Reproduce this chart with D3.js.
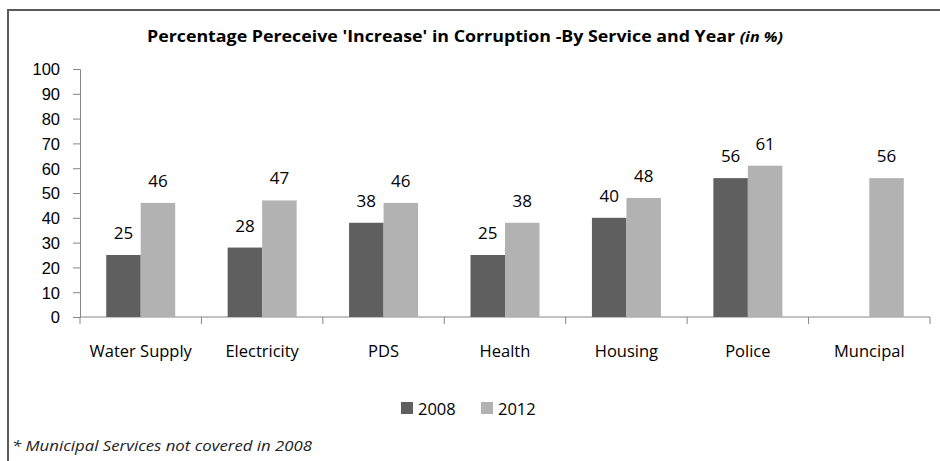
<!DOCTYPE html>
<html>
<head>
<meta charset="utf-8">
<script src="https://cdn.jsdelivr.net/npm/d3@7"></script>
<style>
  body { margin: 0; background: #fff; }
  svg { display: block; font-family: "Open Sans", "Noto Sans", sans-serif; }
</style>
</head>
<body>
<div id="chart"></div>
<script>
const categories = ["Water Supply", "Electricity", "PDS", "Health", "Housing", "Police", "Muncipal"]
const years = ["2008", "2012"]
const values2008 = [25, 28, 38, 25, 40, 56, null]
const values2012 = [46, 47, 46, 38, 48, 61, 56]
const yTicks = [0, 10, 20, 30, 40, 50, 60, 70, 80, 90, 100]
const colors = { "2008": "#5f5f5f", "2012": "#b2b2b2" }

const width = 940
const height = 461

const svg = d3.select("#chart")
    .append("svg")
    .attr("width", width)
    .attr("height", height)

// frame (only top and left edges are visible in the cropped picture)
svg.append("path")
    .attr("d", "M8,461 V10 H940")
    .attr("fill", "none")
    .attr("stroke", "#5a5a5a")
    .attr("stroke-width", 2)

const x0 = d3.scaleBand()
    .domain(categories)
    .range([80, 930])
    .padding(0)

const x1 = d3.scaleBand()
    .domain(years)
    .range([0, x0.bandwidth()])
    .paddingInner(0)
    .paddingOuter(0.76)

const y = d3.scaleLinear()
    .domain([0, 100])
    .range([317, 69])

const rows = categories.map(function(c, i) {
    return { category: c, values: [
        { year: "2008", value: values2008[i] },
        { year: "2012", value: values2012[i] }
    ] }
})

// title, squeezed to the width of the original (narrow font there)
const title = svg.append("text")
    .attr("x", 465)
    .attr("y", 42)
    .attr("text-anchor", "middle")
    .style("font-size", "15.5px")
    .style("font-weight", "bold")
    .style("fill", "#000")
title.append("tspan").text("Percentage Pereceive 'Increase' in Corruption -By Service and Year ")
title.append("tspan").text("(in %)").style("font-style", "italic").style("font-size", "14px")
title.attr("textLength", 636).attr("lengthAdjust", "spacingAndGlyphs")

// y axis
const yAxis = svg.append("g")
    .attr("transform", "translate(80,0)")
    .call(d3.axisLeft(y).tickValues(yTicks).tickSize(7).tickPadding(13))
yAxis.select(".domain").attr("stroke", "#868686")
yAxis.selectAll(".tick line").attr("stroke", "#868686")
yAxis.selectAll(".tick text")
    .style("font-size", "16.5px")
    .style("fill", "#000")
    .attr("dy", "0.36em")

// x axis with boundary ticks
const xg = svg.append("g").attr("transform", "translate(0,317)")
xg.append("line")
    .attr("x1", 80).attr("x2", 930)
    .attr("stroke", "#868686")
xg.selectAll("line.sep")
    .data(categories.concat(["end"]))
    .enter()
    .append("line")
    .attr("class", "sep")
    .attr("x1", function(d, i) { return i < categories.length ? x0(d) : x0.range()[1] })
    .attr("x2", function(d, i) { return i < categories.length ? x0(d) : x0.range()[1] })
    .attr("y1", 0)
    .attr("y2", 7)
    .attr("stroke", "#868686")
xg.selectAll("text.cat")
    .data(categories)
    .enter()
    .append("text")
    .attr("class", "cat")
    .attr("x", function(d) { return x0(d) + x0.bandwidth() / 2 })
    .attr("y", 40)
    .attr("text-anchor", "middle")
    .style("font-size", "16.5px")
    .text(function(d) { return d })

// bars
const groups = svg.selectAll("g.group")
    .data(rows)
    .enter()
    .append("g")
    .attr("class", "group")
    .attr("transform", function(d) { return "translate(" + x0(d.category) + ",0)" })

groups.selectAll("rect")
    .data(function(d) { return d.values.filter(function(v) { return v.value != null }) })
    .enter()
    .append("rect")
    .attr("x", function(d) { return x1(d.year) })
    .attr("width", x1.bandwidth())
    .attr("y", function(d) { return y(d.value) })
    .attr("height", function(d) { return y(0) - y(d.value) })
    .attr("fill", function(d) { return colors[d.year] })

groups.selectAll("text")
    .data(function(d) { return d.values.filter(function(v) { return v.value != null }) })
    .enter()
    .append("text")
    .attr("x", function(d) { return x1(d.year) + x1.bandwidth() / 2 })
    .attr("y", function(d) { return y(d.value) - 16 })
    .attr("text-anchor", "middle")
    .style("font-size", "17px")
    .text(function(d) { return d.value })

// legend
const legend = svg.selectAll("g.legend")
    .data(years)
    .enter()
    .append("g")
    .attr("class", "legend")
    .attr("transform", function(d, i) { return "translate(" + (401 + i * 80) + ",402)" })
legend.append("rect")
    .attr("width", 12)
    .attr("height", 12)
    .attr("fill", function(d) { return colors[d] })
legend.append("text")
    .attr("x", 17)
    .attr("y", 12.5)
    .style("font-size", "16.5px")
    .text(function(d) { return d })

// footnote
svg.append("text")
    .attr("x", 12)
    .attr("y", 451)
    .style("font-size", "15px")
    .style("font-style", "italic")
    .style("fill", "#222")
    .attr("textLength", 300)
    .attr("lengthAdjust", "spacingAndGlyphs")
    .text("* Municipal Services not covered in 2008")
</script>
</body>
</html>
